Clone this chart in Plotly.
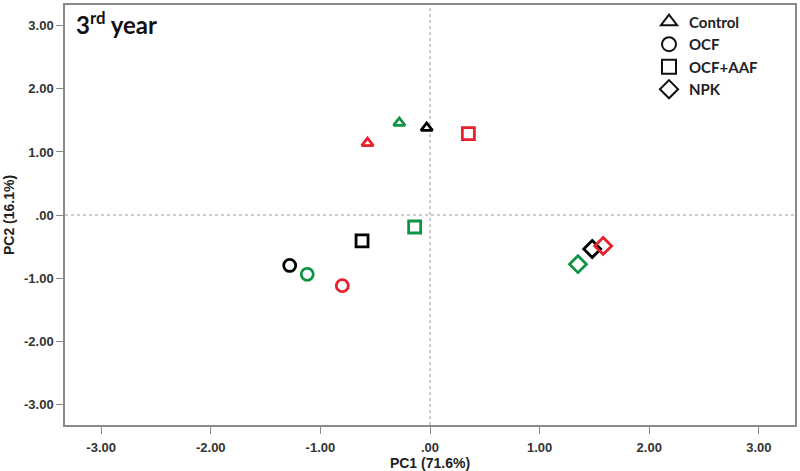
import plotly.graph_objects as go

treatments = ["Control", "OCF", "OCF+AAF", "NPK"]
symbols = ["triangle-up-open", "circle-open", "square-open", "diamond-open"]
sizes = [10, 12, 12, 13]

black_pc1 = [-0.03, -1.28, -0.62, 1.48]
black_pc2 = [1.38, -0.80, -0.41, -0.54]
green_pc1 = [-0.28, -1.12, -0.14, 1.35]
green_pc2 = [1.46, -0.94, -0.19, -0.78]
red_pc1 = [-0.57, -0.80, 0.35, 1.58]
red_pc2 = [1.14, -1.12, 1.29, -0.49]

tick_vals = [-3, -2, -1, 0, 1, 2, 3]
tick_text = ["-3.00", "-2.00", "-1.00", ".00", "1.00", "2.00", "3.00"]

groups = [
    ("#000000", black_pc1, black_pc2),
    ("#0f9444", green_pc1, green_pc2),
    ("#e8202c", red_pc1, red_pc2),
]

fig = go.Figure()

# reference lines
fig.add_shape(type="line", xref="x", yref="paper", x0=0, x1=0, y0=0, y1=1,
              line=dict(color="#9a9a9a", width=1, dash="dot"), layer="below")
fig.add_shape(type="line", xref="paper", yref="y", x0=0, x1=1, y0=0, y1=0,
              line=dict(color="#9a9a9a", width=1, dash="dot"), layer="below")

for color, xs, ys in groups:
    fig.add_trace(go.Scatter(
        x=xs, y=ys, mode="markers", showlegend=False,
        marker=dict(symbol=symbols, size=sizes, color=color, opacity=1,
                    line=dict(width=2.8, color=color)),
        hoverinfo="x+y",
    ))

for name, sym in zip(treatments, symbols):
    fig.add_trace(go.Scatter(
        x=[None], y=[None], mode="markers", name=name,
        marker=dict(symbol=sym, size=14, color="#111111", opacity=1,
                    line=dict(width=2, color="#111111")),
    ))

fig.add_annotation(
    text="<b>3<sup>rd</sup> year</b>", xref="paper", yref="paper",
    x=0.012, y=1.0, xanchor="left", yanchor="top", showarrow=False,
    font=dict(family="Lato, Open Sans, sans-serif", size=24, color="#111111"),
)

axis_common = dict(
    tickmode="array", tickvals=tick_vals, ticktext=tick_text,
    range=[-3.33, 3.33], showgrid=False, zeroline=False, automargin=False,
    showline=True, mirror=True, linecolor="#8a8a8a", linewidth=1.5,
    ticks="outside", ticklen=7, tickcolor="#8a8a8a", tickwidth=1,
    tickfont=dict(family="Arial, Liberation Sans, sans-serif", size=13,
                  color="#333333", weight="bold"),
)

fig.update_layout(
    width=800, height=471,
    margin=dict(l=65, r=5, t=5, b=46),
    paper_bgcolor="white", plot_bgcolor="white",
    xaxis=dict(**axis_common, ticklabelstandoff=3,
               title=dict(text="<b>PC1 (71.6%)</b>", standoff=10,
                          font=dict(family="Arial, Liberation Sans, sans-serif", size=14, color="#222222"))),
    yaxis=dict(**axis_common,
               title=dict(text="<b>PC2 (16.1%)</b>", standoff=6,
                          font=dict(family="Arial, Liberation Sans, sans-serif", size=14, color="#222222"))),
    legend=dict(x=0.80, y=0.999, xanchor="left", yanchor="top",
                bgcolor="rgba(0,0,0,0)", tracegroupgap=0,
                font=dict(family="Lato, Open Sans, sans-serif", size=15, color="#222222",
                          weight="bold")),
)

fig.write_html("out.html")
